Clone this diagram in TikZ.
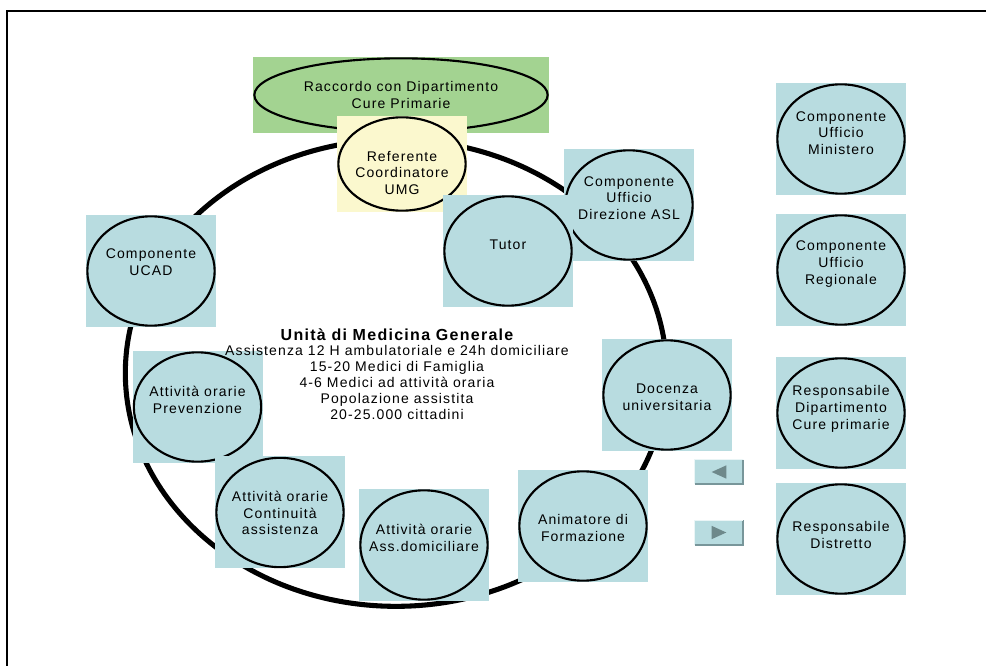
\documentclass[tikz,border=0pt]{standalone}
\usepackage{fontspec}
\setmainfont{Liberation Sans}
\newfontfamily\spaced[LetterSpace=8]{Liberation Sans}
\usetikzlibrary{shapes.geometric}
\definecolor{boxblue}{RGB}{184,220,224}
\definecolor{boxgreen}{RGB}{163,211,145}
\definecolor{boxyellow}{RGB}{251,248,206}
\definecolor{btnedge}{RGB}{120,150,154}
\definecolor{tricol}{RGB}{110,137,139}
\tikzset{
  bluebox/.style={rectangle, fill=boxblue, inner sep=0pt, minimum width=97.5pt, minimum height=84pt},
  oval/.style={ellipse, draw=black, line width=1.6pt, inner sep=0pt, minimum width=95.5pt, minimum height=82pt},
  lbl/.style={align=center, inner sep=0pt, font=\spaced\fontsize{10.5}{12.6}\selectfont},
  btn/.style={rectangle, fill=boxblue, inner sep=0pt, minimum width=36pt, minimum height=18pt},
}
\begin{document}
\begin{tikzpicture}[x=0.75pt,y=-0.75pt]
\useasboundingbox (0,0) rectangle (986,666);
% frame
\draw[line width=1.5pt] (7,700) -- (7,11) -- (1000,11);
% big ring
\node[ellipse, draw=black, line width=3.8pt, inner sep=0pt, minimum width=406pt, minimum height=350pt] (ring) at (396,373) {};
% green top
\node[rectangle, fill=boxgreen, inner sep=0pt, minimum width=222pt, minimum height=57pt] (rbox) at (401,95) {};
\node[ellipse, draw=black, line width=1.6pt, inner sep=0pt, minimum width=220pt, minimum height=55pt] (raccordo) at (401,95) {};
\node[lbl] (traccordo) at (401,95) {Raccordo con Dipartimento\\Cure Primarie};
% yellow referente
\node[rectangle, fill=boxyellow, inner sep=0pt, minimum width=97.5pt, minimum height=72pt] (refbox) at (402,164) {};
\node[oval, minimum height=70pt] (ref) at (402,164) {};
\node[lbl] (tref) at (402,173) {Referente\\Coordinatore\\UMG};
% Direzione ASL
\node[bluebox] (aslbox) at (629,205) {};
\node[oval] (asl) at (629,205) {};
\node[lbl] (tasl) at (629,198) {Componente\\Ufficio\\Direzione ASL};
% Tutor
\node[bluebox] (tutbox) at (508,251) {};
\node[oval] (tut) at (508,251) {};
\node[lbl] (ttut) at (508,245) {Tutor};
% UCAD
\node[bluebox] (ucadbox) at (151,271) {};
\node[oval] (ucad) at (151,271) {};
\node[lbl] (tucad) at (151,262) {Componente\\UCAD};
% Prevenzione
\node[bluebox] (prevbox) at (197.5,407) {};
\node[oval] (prev) at (197.5,407) {};
\node[lbl] (tprev) at (197.5,400) {Attività orarie\\Prevenzione};
% Continuita
\node[bluebox] (contbox) at (280,512.5) {};
\node[oval] (cont) at (280,512.5) {};
\node[lbl] (tcont) at (280,513) {Attività orarie\\Continuità\\assistenza};
% Ass. domiciliare
\node[bluebox] (adbox) at (424,545) {};
\node[oval] (ad) at (424,545) {};
\node[lbl] (tad) at (424,538) {Attività orarie\\Ass.domiciliare};
% Animatore
\node[bluebox] (animbox) at (583,526) {};
\node[oval] (anim) at (583,526) {};
\node[lbl] (tanim) at (583,528) {Animatore di\\Formazione};
% Docenza
\node[bluebox] (docbox) at (667,395) {};
\node[oval] (doc) at (667,395) {};
\node[lbl] (tdoc) at (667,397) {Docenza\\universitaria};
% center text
\node[align=center, inner sep=0pt] (center) at (397,374)
 {{\spaced\bfseries\fontsize{12}{12.6}\selectfont Unità di Medicina Generale}\\[-0.5pt]
  {\spaced\fontsize{10.5}{12.6}\selectfont Assistenza 12 H ambulatoriale e 24h domiciliare}\\
  {\spaced\fontsize{10.5}{12.6}\selectfont 15-20 Medici di Famiglia}\\
  {\spaced\fontsize{10.5}{12.6}\selectfont 4-6 Medici ad attività oraria}\\
  {\spaced\fontsize{10.5}{12.6}\selectfont Popolazione assistita}\\
  {\spaced\fontsize{10.5}{12.6}\selectfont 20-25.000 cittadini}};
% right column
\node[bluebox] (minbox) at (841,139) {};
\node[oval] (min) at (841,139) {};
\node[lbl] (tmin) at (841,133) {Componente\\Ufficio\\Ministero};
\node[bluebox] (regbox) at (841,270) {};
\node[oval] (reg) at (841,270) {};
\node[lbl] (treg) at (841,264) {Componente\\Ufficio\\Regionale};
\node[bluebox] (rdbox) at (841,413) {};
\node[oval] (rd) at (841,413) {};
\node[lbl] (trd) at (841,409) {Responsabile\\Dipartimento\\Cure primarie};
\node[bluebox] (distbox) at (841,539) {};
\node[oval] (dist) at (841,539) {};
\node[lbl] (tdist) at (841,535) {Responsabile\\Distretto};
% buttons
\node[btn] (bprev) at (719,472) {};
\node[btn] (bnext) at (719,532.5) {};
\draw[btnedge, line width=1.2pt] (bprev.north east) -- (bprev.south east) -- (bprev.south west);
\draw[btnedge, line width=1.2pt] (bnext.north east) -- (bnext.south east) -- (bnext.south west);
\draw[white!70!boxblue, line width=0.8pt] (bprev.south west) -- (bprev.north west) -- (bprev.north east);
\draw[white!70!boxblue, line width=0.8pt] (bnext.south west) -- (bnext.north west) -- (bnext.north east);
\fill[tricol] ([xshift=-5.5pt]bprev.center) -- ([xshift=5.5pt,yshift=5pt]bprev.center) -- ([xshift=5.5pt,yshift=-5pt]bprev.center) -- cycle;
\fill[tricol] ([xshift=5.5pt]bnext.center) -- ([xshift=-5.5pt,yshift=5pt]bnext.center) -- ([xshift=-5.5pt,yshift=-5pt]bnext.center) -- cycle;
\end{tikzpicture}
\end{document}
